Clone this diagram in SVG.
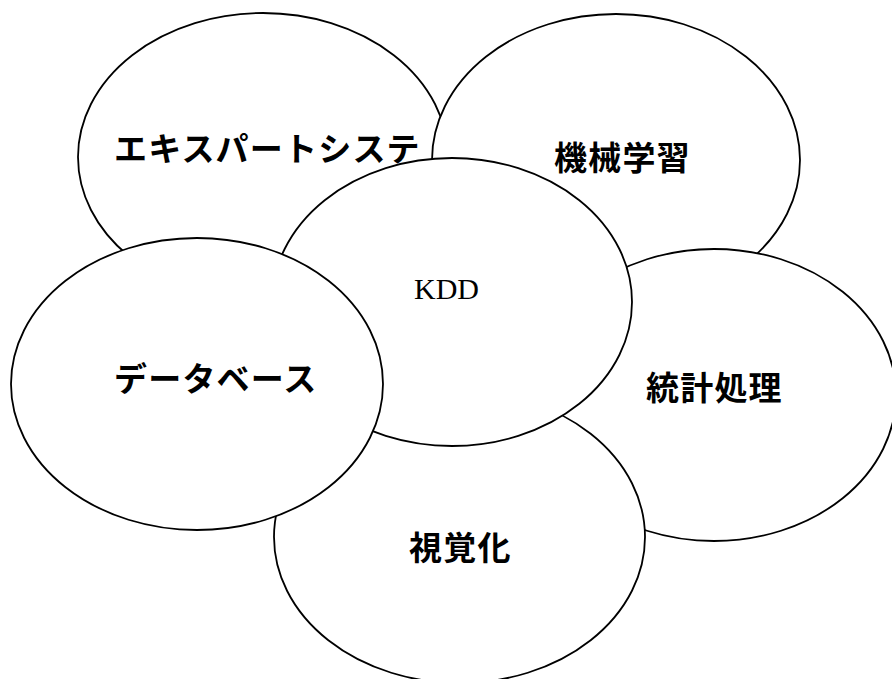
<svg xmlns="http://www.w3.org/2000/svg" width="892" height="679" viewBox="0 0 892 679">
<style>
.n{fill:#fff;stroke:#000;stroke-width:1.8}
.j{font-family:"Noto Sans CJK JP","Noto Sans CJK SC",sans-serif;font-weight:bold;font-size:33px;letter-spacing:1.2px;fill:#000}
.k{font-family:"Liberation Serif",serif;font-size:30px;fill:#000}
</style>
<rect width="892" height="679" fill="#fff"/>
<g id="expert"><ellipse class="n" cx="263" cy="157" rx="185" ry="144"/><text class="j" x="114" y="161">エキスパートシステ</text></g>
<g id="ml"><ellipse class="n" cx="616" cy="160" rx="184" ry="146"/><text class="j" x="554" y="170" letter-spacing="3">機械学習</text></g>
<g id="stat"><ellipse class="n" cx="714" cy="395" rx="182" ry="146"/><text class="j" x="646" y="400">統計処理</text></g>
<g id="vis"><ellipse class="n" cx="459.5" cy="537" rx="185.5" ry="146"/><text class="j" x="409" y="560">視覚化</text></g>
<g id="kdd"><ellipse class="n" cx="452" cy="302" rx="180" ry="144"/><text class="k" x="414" y="299">KDD</text></g>
<g id="db"><ellipse class="n" cx="197" cy="384" rx="186" ry="146"/><text class="j" x="114" y="391">データベース</text></g>
<g id="connectors"/>
</svg>
